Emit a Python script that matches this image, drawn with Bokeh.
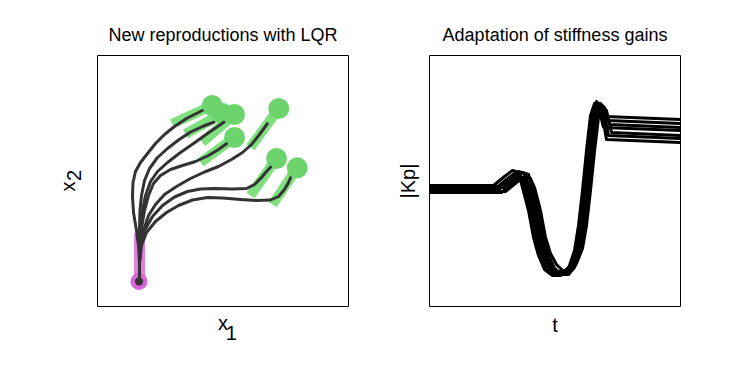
from bokeh.plotting import figure
from bokeh.layouts import row
from bokeh.models import Range1d, LinearAxis
from bokeh.embed import file_html
from bokeh.resources import INLINE

# ---------------- Left panel data (arbitrary units, 0..251) ----------------
start_x = [41.5]
start_y = [25.0]
start_bar_x0 = [42.0]
start_bar_y0 = [25.0]
start_bar_x1 = [42.0]
start_bar_y1 = [73.0]

target_x = [114.7, 125.0, 137.0, 137.0, 181.3, 179.0, 199.7]
target_y = [201.0, 193.0, 192.0, 169.0, 198.0, 148.0, 138.7]
target_bar_x0 = [74.7, 88.0, 104.7, 103.0, 153.0, 153.0, 175.0]
target_bar_y0 = [182.7, 172.7, 164.3, 144.0, 159.3, 111.0, 102.0]

traj_a_x = [42, 42, 41, 39, 36, 35, 35.5, 38, 43, 50, 58, 67, 77, 89, 104.7]
traj_a_y = [27, 44, 61, 76, 94, 110, 124, 135, 144, 153, 163, 172, 180, 188, 196]
traj_b_x = [42, 42, 42, 42, 42.5, 44, 47, 52, 60, 70, 81, 93, 105, 116.3]
traj_b_y = [27, 44, 61, 78, 96, 111, 126, 138, 149, 158, 166.5, 174.5, 180, 184.3]
traj_c_x = [42, 42, 42, 43, 45, 48, 53, 60, 70, 83, 96, 110, 126.3]
traj_c_y = [27, 44, 61, 78, 96, 111, 125, 135, 144, 154, 163, 173, 184.3]
traj_d_x = [42, 42, 42.5, 44, 47, 51, 56, 63, 73, 85, 98, 111, 121, 129]
traj_d_y = [27, 44, 61, 78, 96, 111, 123, 131, 137, 141, 145, 151, 157, 162.7]
traj_e_x = [42, 42, 43, 46, 51, 58, 67, 79, 93, 107, 121, 134, 145, 154, 162, 169.7]
traj_e_y = [27, 44, 61, 76, 91, 102, 112, 120, 128, 134.5, 140, 147, 154, 162, 172, 182.7]
traj_f_x = [42, 42, 43, 47, 55, 65, 77, 90, 103, 118, 135, 149, 157, 164, 169, 173]
traj_f_y = [27, 44, 61, 76, 90, 101, 109.5, 115, 117.5, 118, 117.5, 118, 122, 129, 135, 139.3]
traj_g_x = [42, 42, 44, 49, 58, 69, 81, 95, 110, 125, 143, 159, 173, 181, 187, 191, 193]
traj_g_y = [27, 44, 61, 74, 85, 94, 101, 106.5, 109, 108.5, 107, 106, 106.5, 110, 117, 124, 128.7]

# ---------------- Right panel data ----------------
kp_t1 = [0, 64, 75, 83, 89, 93, 99, 104, 109, 115, 123, 131, 139, 145, 149, 153, 157, 161, 165, 169, 174, 251]
kp_v1 = [121, 121, 130, 136, 134, 119, 96, 69, 51, 37, 31, 31, 38, 56, 81, 116, 156, 191, 203, 199, 179, 176]
kp_t2 = [0, 66, 77, 85, 91, 95, 101, 106, 111, 117, 125, 133, 141, 147, 151, 155, 159, 163, 167, 171, 176, 251]
kp_v2 = [118, 118, 127, 133, 131, 119, 96, 69, 51, 39, 33, 33, 40, 56, 81, 116, 157, 193, 205, 201, 190, 187]
kp_t3 = [0, 68, 79, 87, 93, 97, 103, 108, 113, 119, 126.5, 134.5, 142, 148, 152, 156, 160, 164, 168, 172, 177, 251]
kp_v3 = [116, 116, 125, 131, 129, 119, 96, 69, 52, 41, 35, 35, 42, 57, 81, 116, 155, 189, 200, 196, 167, 164]
kp_t4 = [0, 70, 81, 89, 95, 99, 105, 110, 115, 121, 128, 136, 143, 149, 153, 157, 161, 165, 169, 173, 178, 251]
kp_v4 = [120, 120, 129, 135, 133, 119, 96, 69, 51, 38, 32, 32, 39, 56, 81, 116, 156, 191, 203, 199, 186, 183]
kp_t5 = [0, 72, 83, 91, 97, 101, 107, 112, 117, 123, 129.5, 137.5, 144, 150, 154, 158, 162, 166, 170, 174, 179, 251]
kp_v5 = [114, 114, 123, 129, 127, 119, 96, 69, 51, 40, 34, 34, 41, 56, 81, 116, 156, 190, 201, 197, 171, 168]
kp_t6 = [0, 74, 85, 93, 99, 103, 109, 114, 119, 125, 131, 139, 145, 151, 155, 159, 163, 167, 171, 175, 180, 251]
kp_v6 = [119, 119, 128, 134, 132, 119, 96, 69, 51, 38, 32, 32, 39, 56, 81, 116, 156, 191, 203, 199, 182, 179]
kp_t7 = [0, 76, 87, 95, 101, 105, 111, 116, 121, 127, 133, 141, 147, 153, 157, 161, 165, 169, 173, 177, 182, 251]
kp_v7 = [115, 115, 124, 130, 128, 119, 96, 69, 53, 42, 36, 36, 43, 58, 81, 116, 155, 189, 200, 196, 174, 171]

NB = "\u00a0"
x_label_left = "x"
x_label_left_sub = NB * 3 + "1"
y_label_left = "x" + NB * 2
y_label_left_sub = NB * 2 + "2"
x_label_right = "t"
y_label_right = "|Kp|"

FONT = "Liberation Sans"


def style_axis(ax, lab, st):
    ax.ticker = []
    ax.axis_line_color = None
    ax.major_tick_line_color = None
    ax.minor_tick_line_color = None
    ax.major_tick_out = 0
    ax.major_tick_in = 0
    ax.minor_tick_out = 0
    ax.major_label_text_font_size = "0px"
    ax.major_label_standoff = 0
    ax.axis_label = lab
    ax.axis_label_text_font = FONT
    ax.axis_label_text_font_size = "20px"
    ax.axis_label_text_font_style = "normal"
    ax.axis_label_text_color = "black"
    ax.axis_label_standoff = st


def make_fig(width, left, right, title):
    p = figure(width=width, height=358, x_range=Range1d(0, 251), y_range=Range1d(0, 251),
               output_backend="svg", toolbar_location=None,
               min_border_left=left, min_border_right=right,
               min_border_top=55, min_border_bottom=52)
    p.grid.visible = False
    p.outline_line_color = "black"
    p.outline_line_width = 1
    p.outline_line_alpha = 1
    p.title.text = title
    p.title.align = "center"
    p.title.text_font = FONT
    p.title.text_font_style = "normal"
    p.title.text_font_size = "18px"
    p.title.text_color = "black"
    p.title.standoff = 22
    p.background_fill_color = "white"
    p.border_fill_color = "white"
    return p


# ---------------- Left figure ----------------
p1 = make_fig(378, 97, 30, "New reproductions with LQR")
style_axis(p1.xaxis[0], x_label_left, 5)
style_axis(p1.yaxis[0], y_label_left_sub, 13)
ax_x_sub = LinearAxis()
style_axis(ax_x_sub, x_label_left_sub, -15)
p1.add_layout(ax_x_sub, "below")
ax_y_main = LinearAxis()
style_axis(ax_y_main, y_label_left, -19)
p1.add_layout(ax_y_main, "left")

p1.segment(x0=target_bar_x0, y0=target_bar_y0, x1=target_x, y1=target_y,
           line_color="#80e080", line_width=10, line_cap="butt")
p1.segment(x0=start_bar_x0, y0=start_bar_y0, x1=start_bar_x1, y1=start_bar_y1,
           line_color="#e07ee0", line_width=11, line_cap="butt")
p1.scatter(x=start_x, y=start_y, size=17, color="#d866d8", line_color=None)
p1.scatter(x=target_x, y=target_y, size=21, color="#6dd46d", line_color=None)

for tx, ty in [(traj_a_x, traj_a_y), (traj_b_x, traj_b_y), (traj_c_x, traj_c_y),
               (traj_d_x, traj_d_y), (traj_e_x, traj_e_y), (traj_f_x, traj_f_y),
               (traj_g_x, traj_g_y)]:
    p1.line(x=tx, y=ty, line_color="#333333", line_width=3,
            line_join="round", line_cap="round")
p1.scatter(x=start_x, y=start_y, size=8, color="#333333", line_color=None)

# ---------------- Right figure ----------------
p2 = make_fig(332, 51, 30, "Adaptation of stiffness gains")
style_axis(p2.xaxis[0], x_label_right, 7)
style_axis(p2.yaxis[0], y_label_right, 11)
for tx, ty in [(kp_t1, kp_v1), (kp_t2, kp_v2), (kp_t3, kp_v3), (kp_t4, kp_v4),
               (kp_t5, kp_v5), (kp_t6, kp_v6), (kp_t7, kp_v7)]:
    p2.line(x=tx, y=ty, line_color="black", line_width=3, line_join="round")

layout = row(p1, p2)
open("out.html", "w").write(file_html(layout, INLINE))
